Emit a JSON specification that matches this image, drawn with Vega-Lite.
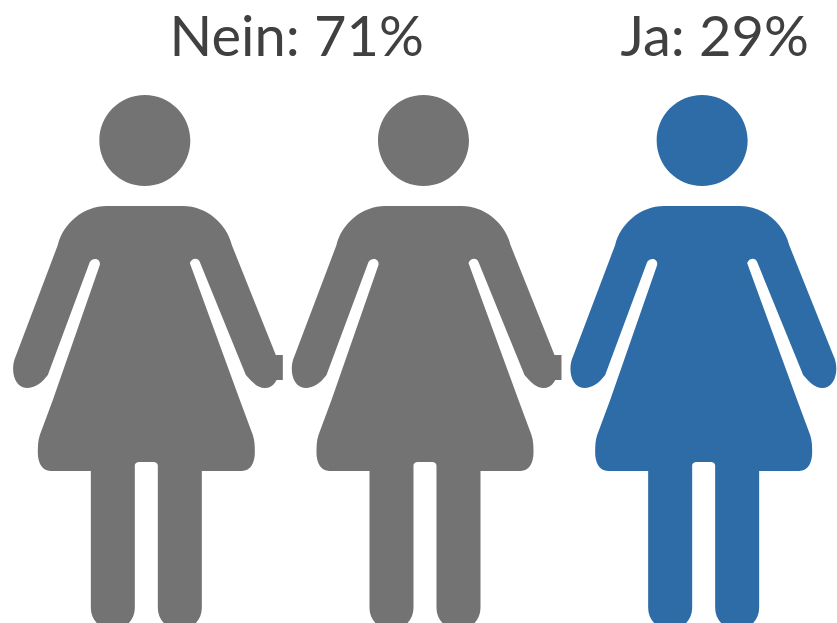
{
  "$schema": "https://vega.github.io/schema/vega-lite/v6.json",
  "width": 837,
  "height": 623,
  "padding": 0,
  "autosize": {"type": "fit", "contains": "padding"},
  "background": "#ffffff",
  "view": {"stroke": null},
  "datasets": {
    "figuren": [
      {"figur": 0, "antwort": "Nein", "reihe": "Figur"},
      {"figur": 1, "antwort": "Nein", "reihe": "Figur"},
      {"figur": 2, "antwort": "Ja", "reihe": "Figur"}
    ],
    "titel": [
      {"figur": 0.5, "antwort": "Nein", "anteil": 71, "label": "Nein: 71%", "reihe": "Titel"},
      {"figur": 2, "antwort": "Ja", "anteil": 29, "label": "Ja: 29%", "reihe": "Titel"}
    ]
  },
  "layer": [
    {
      "data": {"name": "figuren"},
      "mark": {"type": "point", "filled": true, "opacity": 1, "size": 4, "strokeWidth": 0},
      "encoding": {
        "x": {"field": "figur", "type": "quantitative", "axis": null, "scale": {"domain": [-0.5197, 2.4803], "nice": false, "zero": false}},
        "y": {"field": "reihe", "type": "ordinal", "axis": null, "scale": {"type": "point", "domain": ["Titel", "Figur"], "range": [56, 359], "padding": 0}},
        "color": {"field": "antwort", "type": "nominal", "legend": null, "scale": {"domain": ["Nein", "Ja"], "range": ["#737373", "#2E6CA8"]}},
        "shape": {"field": "antwort", "type": "nominal", "legend": null, "scale": {"domain": ["Nein", "Ja"], "range": [
          "M-45.5 -218.5 A45.5 45.5 0 1 1 45.5 -218.5 A45.5 45.5 0 1 1 -45.5 -218.5 Z M-38 -153 L38 -153 C62 -153 82 -135 87 -114 L131 -4 C138 10 133 29 120 29 C113 29 107 23 101 16 L55 -97 C53 -102 47 -101 45 -96 L95 41 L108 76 C110 82 110 88 110 94 C110 103 106 112 97 112 L57 112 L57 249 A22 22 0 0 1 13 249 L13 107 C13 104 11 103 8 103 L-5 103 C-8 103 -10 104 -10 107 L-10 249 A22 22 0 0 1 -54 249 L-54 112 L-94 112 C-103 112 -107 103 -107 94 C-107 88 -107 82 -105 76 L-92 41 L-45 -94 C-44 -101 -52 -102 -55 -97 L-97 16 C-103 24 -110 29 -118 29 C-131 29 -135 10 -129 -3 L-87 -114 C-82 -135 -62 -153 -38 -153 Z M130 -4 L138 -4 L138 21 L130 21 Z",
          "M-45.5 -218.5 A45.5 45.5 0 1 1 45.5 -218.5 A45.5 45.5 0 1 1 -45.5 -218.5 Z M-38 -153 L38 -153 C62 -153 82 -135 87 -114 L131 -4 C138 10 133 29 120 29 C113 29 107 23 101 16 L55 -97 C53 -102 47 -101 45 -96 L95 41 L108 76 C110 82 110 88 110 94 C110 103 106 112 97 112 L57 112 L57 249 A22 22 0 0 1 13 249 L13 107 C13 104 11 103 8 103 L-5 103 C-8 103 -10 104 -10 107 L-10 249 A22 22 0 0 1 -54 249 L-54 112 L-94 112 C-103 112 -107 103 -107 94 C-107 88 -107 82 -105 76 L-92 41 L-45 -94 C-44 -101 -52 -102 -55 -97 L-97 16 C-103 24 -110 29 -118 29 C-131 29 -135 10 -129 -3 L-87 -114 C-82 -135 -62 -153 -38 -153 Z"
        ]}}
      }
    },
    {
      "data": {"name": "titel"},
      "mark": {"type": "text", "font": "Lato", "fontSize": 56, "color": "#404040", "align": "center", "baseline": "alphabetic", "xOffset": 12.5},
      "encoding": {
        "x": {"field": "figur", "type": "quantitative", "axis": null, "scale": {"domain": [-0.5197, 2.4803], "nice": false, "zero": false}},
        "y": {"field": "reihe", "type": "ordinal", "axis": null, "scale": {"type": "point", "domain": ["Titel", "Figur"], "range": [56, 359], "padding": 0}},
        "text": {"field": "label", "type": "nominal"}
      }
    }
  ]
}
